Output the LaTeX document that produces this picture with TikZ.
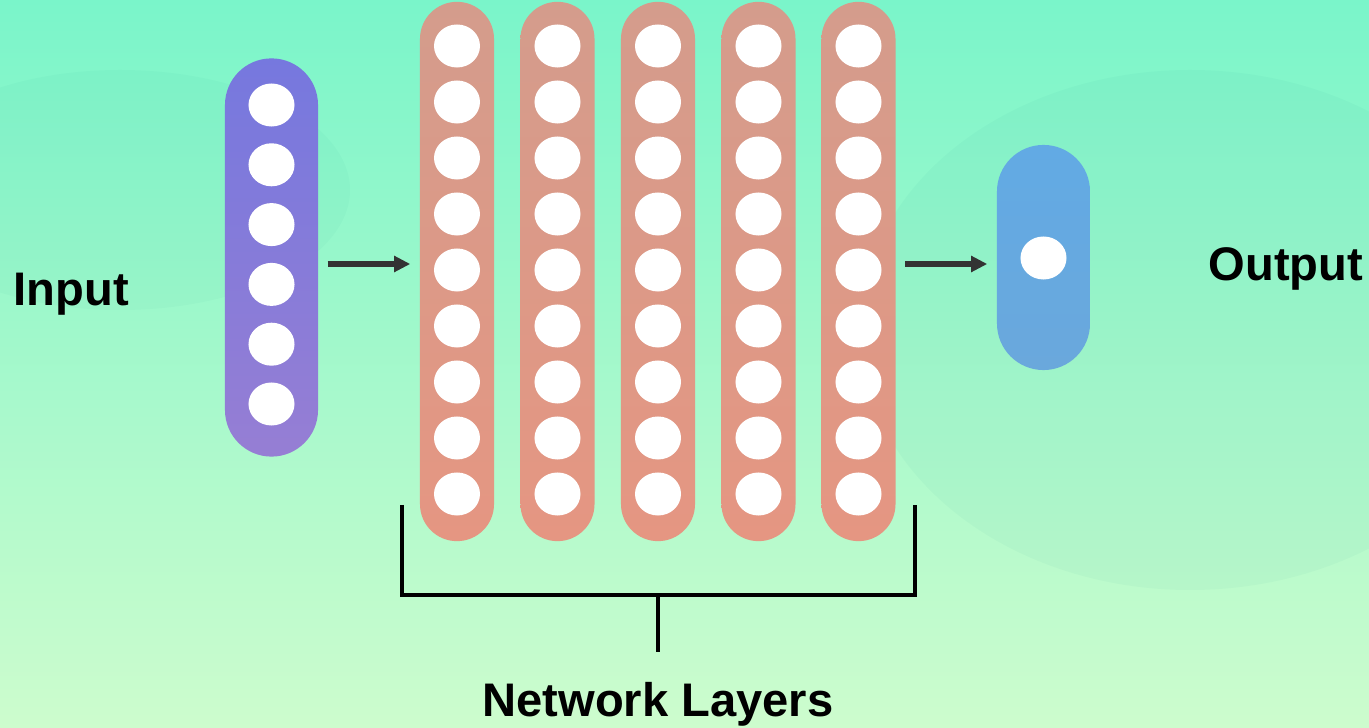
\documentclass[tikz,border=0pt]{standalone}
\usepackage{fontspec}
\setmainfont{Liberation Sans}
\usetikzlibrary{shapes.geometric, arrows.meta, positioning}

\definecolor{bgtop}{RGB}{122,245,202}
\definecolor{bgmid}{RGB}{150,248,185}
\definecolor{bgbot}{RGB}{205,252,205}
\definecolor{intop}{RGB}{118,120,222}
\definecolor{inbot}{RGB}{150,126,212}
\definecolor{laytop}{RGB}{212,156,140}
\definecolor{laybot}{RGB}{229,150,130}
\definecolor{outtop}{RGB}{98,170,228}
\definecolor{outbot}{RGB}{106,168,220}

\begin{document}
\begin{tikzpicture}[
    x=0.01cm, y=-0.01cm,
    pill/.style={rectangle, inner sep=0, draw=none},
    neuron/.style={ellipse, fill=white, inner sep=0, minimum width=0.46cm, minimum height=0.43cm},
    arrow/.style={line width=1.7pt, draw=black!80, -{Triangle[length=4.6pt, width=4.4pt]}},
    bracket/.style={line width=1pt, black},
    lbl/.style={font=\fontsize{13.4}{16}\selectfont\bfseries, inner sep=0}
]

% Fondo
\useasboundingbox (0,0) rectangle (1369,728);
\shade [top color=bgtop, middle color=bgmid, bottom color=bgbot] (0,0) rectangle (1369,728);
\fill [teal, opacity=0.035] (1190,330) ellipse (330 and 260);
\fill [teal, opacity=0.03] (120,190) ellipse (230 and 120);

% Entrada
\node (inp) [pill, minimum width=0.93cm, minimum height=3.98cm, rounded corners=0.465cm, top color=intop, bottom color=inbot] at (271.5,257.5) {};
\foreach \j in {0,...,5}
    \node (in-\j) [neuron] at (271.5,105+59.8*\j) {};

% Capas ocultas
\foreach \i/\x in {1/457, 2/557.5, 3/658, 4/758.5, 5/858.5} {
    \node (l\i) [pill, minimum width=0.74cm, minimum height=5.39cm, rounded corners=0.37cm, top color=laytop, bottom color=laybot] at (\x,271.5) {};
    \foreach \j in {0,...,8}
        \node (l\i-\j) [neuron] at (\x,46+56*\j) {};
}

% Salida
\node (out) [pill, minimum width=0.93cm, minimum height=2.25cm, rounded corners=0.465cm, top color=outtop, bottom color=outbot] at (1043.5,257.5) {};
\node (out-0) [neuron] at (1043.5,258) {};

% Etiquetas
\node (lblin) [lbl, anchor=base west] at (13,306) {Input};
\node (lblout) [lbl, anchor=base west] at (1208,281) {Output};
\node (lblnet) [lbl, anchor=base] at (658,717) {Network Layers};

% Flechas
\draw [arrow, shorten <=0.09cm, shorten >=0.09cm] ([yshift=-0.065cm]inp.east) -- ([yshift=-0.065cm]inp.east -| l1.west);
\draw [arrow, shorten <=0.09cm, shorten >=0.09cm] ([yshift=-0.065cm]out.west -| l5.east) -- ([yshift=-0.065cm]out.west);

% Llave inferior
\coordinate (brl) at (402,505);
\coordinate (brr) at (915,505);
\coordinate (stem) at (658,652);
\draw [bracket] (brl) -- (402,595) -- (915,595) -- (brr);
\draw [bracket] (stem |- 0,595) -- (stem);

\end{tikzpicture}
\end{document}
